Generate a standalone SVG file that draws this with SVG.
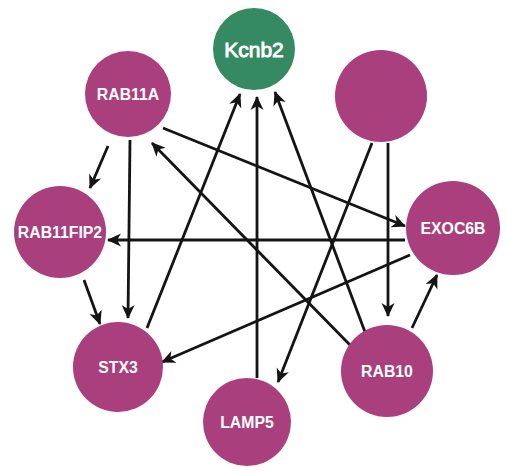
<svg xmlns="http://www.w3.org/2000/svg" width="506" height="471" viewBox="0 0 506 471">
  <style>
    .node { fill: #a93f7d; }
    .hub { fill: #368a63; }
    .label { font-family: "Liberation Sans", Arial, sans-serif; font-weight: bold; fill: #ffffff; text-anchor: middle; dominant-baseline: central; font-size: 15.8px; }
    .hub-label { font-size: 21px; font-weight: normal; stroke: #ffffff; stroke-width: 0.9; }
    .edge { stroke: #141414; stroke-width: 2.8; fill: none; marker-end: url(#arrow); }
  </style>
  <defs>
    <marker id="arrow" markerUnits="userSpaceOnUse" markerWidth="16" markerHeight="16" viewBox="0 0 16 16" refX="14" refY="8" orient="auto">
      <path d="M1,1.5 L15,8 L1,14.5 L5,8 Z" fill="#141414"/>
    </marker>
  </defs>
  <rect width="506" height="471" fill="#ffffff"/>

  <g id="connectors">
    <line class="edge" x1="108" y1="146" x2="90" y2="188"/>
    <line class="edge" x1="130" y1="140" x2="128" y2="318"/>
    <line class="edge" x1="163" y1="128" x2="405" y2="226"/>
    <line class="edge" x1="350" y1="345" x2="152" y2="143"/>
    <line class="edge" x1="84" y1="280" x2="100" y2="324"/>
    <line class="edge" x1="405" y1="240" x2="108" y2="240"/>
    <line class="edge" x1="410" y1="255" x2="162" y2="362"/>
    <line class="edge" x1="147" y1="328" x2="240" y2="94"/>
    <line class="edge" x1="257" y1="378" x2="257" y2="97"/>
    <line class="edge" x1="365" y1="332" x2="275" y2="92"/>
    <line class="edge" x1="372" y1="143" x2="278" y2="382"/>
    <line class="edge" x1="388" y1="143" x2="388" y2="316"/>
    <line class="edge" x1="412" y1="328" x2="437" y2="275"/>
  </g>

  <g id="Kcnb2">
    <circle class="hub" cx="254" cy="49" r="41"/>
    <text class="label hub-label" x="254" y="49">Kcnb2</text>
  </g>
  <g id="unnamed">
    <circle class="node" cx="381" cy="96" r="46"/>
  </g>
  <g id="RAB11A">
    <circle class="node" cx="128" cy="94" r="43"/>
    <text class="label" x="128" y="94">RAB11A</text>
  </g>
  <g id="RAB11FIP2">
    <circle class="node" cx="60" cy="232" r="46"/>
    <text class="label" x="60" y="232">RAB11FIP2</text>
  </g>
  <g id="EXOC6B">
    <circle class="node" cx="453" cy="228" r="47"/>
    <text class="label" x="453" y="228">EXOC6B</text>
  </g>
  <g id="STX3">
    <circle class="node" cx="118" cy="367" r="45"/>
    <text class="label" x="118" y="367">STX3</text>
  </g>
  <g id="RAB10">
    <circle class="node" cx="387" cy="371" r="46"/>
    <text class="label" x="387" y="371">RAB10</text>
  </g>
  <g id="LAMP5">
    <circle class="node" cx="247" cy="422" r="44"/>
    <text class="label" x="247" y="422">LAMP5</text>
  </g>
</svg>
